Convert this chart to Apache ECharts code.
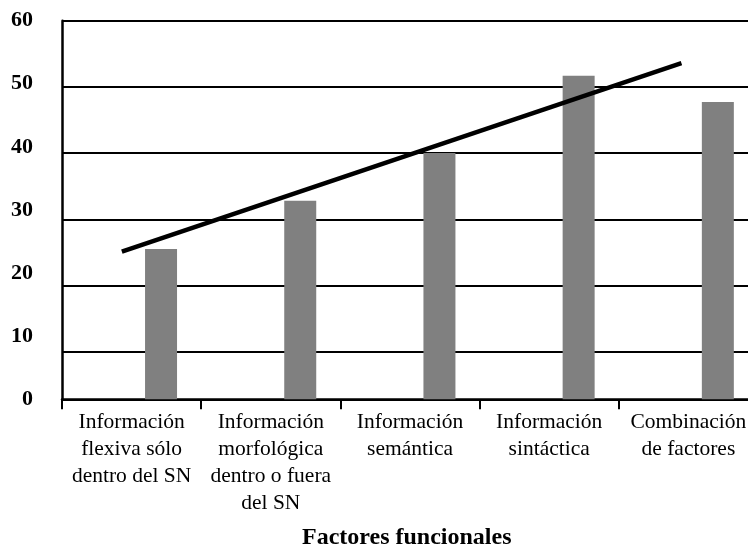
<!doctype html>
<html>
<head>
<meta charset="utf-8">
<title>Factores funcionales</title>
<style>
	body { margin: 0; background: #fff; }
	#main { width: 748px; height: 548px; }
</style>
<script src="https://cdn.jsdelivr.net/npm/echarts@6/dist/echarts.min.js"></script>
</head>
<body>
<div id="main"></div>
<script>
	// datos
	var categorias = [
		'Información\nflexiva sólo\ndentro del SN',
		'Información\nmorfológica\ndentro o fuera\ndel SN',
		'Información\nsemántica',
		'Información\nsintáctica',
		'Combinación\nde factores'
	];
	var valores = [25.5, 32.8, 40, 51.7, 47.7];
	// recta de tendencia (posición en categorías, valor)
	var tendenciaX = [-0.07, 3.95];
	var tendenciaY = [25.1, 53.6];
	var etiquetasY = [0, 10, 20, 30, 40, 50, 60];

	var serif = '"Liberation Serif", "Times New Roman", serif';
	var myChart = echarts.init(document.getElementById('main'));

	var option = {
		animation: false,
		title: {
			text: 'Factores funcionales',
			left: 302,
			top: 526,
			padding: 0,
			textStyle: { fontFamily: serif, fontWeight: 'bold', fontSize: 24, color: '#000' }
		},
		grid: { left: 62, right: -10, top: 20.7, bottom: 148.7, outerBoundsMode: 'none', containLabel: false },
		xAxis: [
			{
				type: 'category',
				data: categorias,
				axisLine: { onZero: false, lineStyle: { color: '#000', width: 2.5 } },
				axisTick: { show: true, alignWithLabel: false, interval: 0, length: 10, lineStyle: { color: '#000', width: 2 } },
				axisLabel: {
					interval: 0, margin: 10, color: '#000',
					fontFamily: serif, fontSize: 21.5, lineHeight: 27
				}
			},
			{ type: 'value', show: false, min: -0.5, max: 4.5 }
		],
		yAxis: [
			// etiquetas (0-60)
			{
				type: 'value', min: etiquetasY[0], max: etiquetasY[etiquetasY.length - 1], interval: 10,
				axisLine: { show: true, onZero: false, lineStyle: { color: '#000', width: 2.5 } },
				axisTick: { show: false },
				splitLine: { show: false },
				axisLabel: { margin: 29, color: '#000', fontFamily: serif, fontWeight: 'bold', fontSize: 22 }
			},
			// lineas de division
			{
				type: 'value', min: 2.8, max: 60, splitNumber: 6,
				axisLine: { show: false, onZero: false },
				axisTick: { show: true, length: 5, lineStyle: { color: '#000', width: 2 } },
				axisLabel: { show: false },
				splitLine: { show: true, lineStyle: { color: '#000', width: 2 } }
			}
		],
		series: [
			{ type: 'bar', data: [], barWidth: 32, barGap: '84%', xAxisIndex: 0, yAxisIndex: 1 },
			{
				type: 'bar', data: valores, barWidth: 32, barGap: '84%',
				xAxisIndex: 0, yAxisIndex: 1,
				itemStyle: { color: '#808080' }
			},
			{
				type: 'line', xAxisIndex: 1, yAxisIndex: 1,
				data: tendenciaX.map(function (x, i) { return [x, tendenciaY[i]]; }),
				showSymbol: false, symbol: 'none',
				lineStyle: { color: '#000', width: 4.5 },
				z: 5
			}
		]
	};
	myChart.setOption(option);
</script>
</body>
</html>
